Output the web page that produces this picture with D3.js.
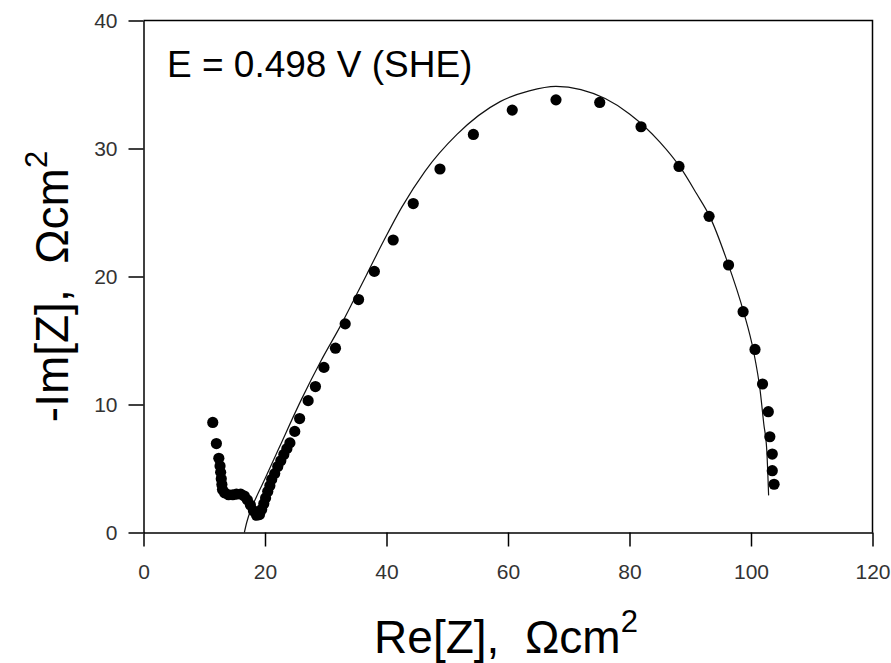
<!DOCTYPE html>
<html>
<head>
<meta charset="utf-8">
<script src="https://cdn.jsdelivr.net/npm/d3@7"></script>
<style>
  html, body { margin: 0; padding: 0; background: #fff; }
  svg { display: block; }
</style>
</head>
<body>
<script>
// ---- data ----
const measRe = [11.4, 12.0, 12.4, 12.6, 12.7, 12.8, 12.9, 13.0, 13.35, 14.0, 14.7, 15.3, 16.0, 16.6, 17.1, 17.6, 18.1, 18.6, 19.1, 19.45, 19.8, 20.1, 20.45, 20.8, 21.1, 21.6, 22.1, 22.6, 23.1, 23.6, 24.1, 24.9, 25.7, 27.1, 28.3, 29.7, 31.6, 33.2, 35.4, 38.0, 41.1, 44.4, 48.8, 54.3, 60.7, 67.9, 75.1, 81.9, 88.15, 93.1, 96.3, 98.7, 100.66, 101.9, 102.85, 103.1, 103.5, 103.5, 103.8];
const measIm = [8.6, 6.95, 5.8, 5.2, 4.7, 4.2, 3.75, 3.35, 3.1, 2.95, 2.95, 3.0, 3.0, 2.85, 2.55, 2.15, 1.7, 1.35, 1.4, 1.8, 2.25, 2.7, 3.2, 3.65, 4.15, 4.6, 5.15, 5.6, 6.1, 6.55, 7.0, 7.9, 8.9, 10.3, 11.4, 12.9, 14.4, 16.3, 18.2, 20.4, 22.85, 25.7, 28.4, 31.1, 33.0, 33.8, 33.6, 31.7, 28.6, 24.7, 20.9, 17.25, 14.3, 11.6, 9.44, 7.48, 6.13, 4.83, 3.77];
const fitRe = [16.6, 17.0, 17.6, 18.6, 20.0, 22.4, 26.0, 29.2, 32.6, 34.65, 37.0, 39.5, 42.5, 46.3, 51.6, 58.7, 63.5, 67.9, 72.0, 76.0, 80.0, 85.0, 88.4, 91.0, 93.3, 96.0, 98.8, 100.4, 101.5, 102.1, 102.6, 102.9];
const fitIm = [0.0, 0.8, 1.7, 2.8, 4.2, 6.7, 10.4, 13.4, 16.3, 18.2, 20.4, 22.75, 25.4, 28.2, 31.1, 33.66, 34.5, 34.85, 34.6, 33.9, 32.7, 30.5, 28.5, 26.5, 24.6, 21.3, 17.2, 14.2, 11.1, 8.5, 6.4, 2.9];
const xTicks = [0, 20, 40, 60, 80, 100, 120];
const yTicks = [0, 10, 20, 30, 40];
const annotation = "E = 0.498 V (SHE)";

// ---- layout ----
const W = 891, H = 663;
const L = 143.5, R = 872.5, T = 20.5, B = 532.5;
const FONT = "'Liberation Sans', Arial, sans-serif";

const svg = d3.select("body").append("svg").attr("width", W).attr("height", H);

const x = d3.scaleLinear().domain([0, 120]).range([L, R]);
const y = d3.scaleLinear().domain([0, 40]).range([B, T]);

// frame (top and right)
svg.append("path")
  .attr("d", `M${L},${T}H${R}V${B}`)
  .attr("fill", "none").attr("stroke", "#000").attr("stroke-width", 1.5);

// axes
const xAxis = d3.axisBottom(x).tickValues(xTicks).tickSize(14).tickSizeOuter(0).tickPadding(18);
const yAxis = d3.axisLeft(y).tickValues(yTicks).tickSize(15).tickSizeOuter(0).tickPadding(11);

const gx = svg.append("g").attr("transform", `translate(0,${B})`).call(xAxis);
const gy = svg.append("g").attr("transform", `translate(${L},0)`).call(yAxis);
[gx, gy].forEach(g => {
  g.select(".domain").attr("stroke", "#000").attr("stroke-width", 1.5);
  g.selectAll(".tick line").attr("stroke", "#000").attr("stroke-width", 1.5);
  g.selectAll(".tick text").attr("font-family", FONT).attr("font-size", 21).attr("fill", "#333");
});

// fit line
const fitData = fitRe.map((v, i) => [v, fitIm[i]]);
svg.append("path")
  .datum(fitData)
  .attr("fill", "none").attr("stroke", "#111").attr("stroke-width", 1.2)
  .attr("d", d3.line().x(d => x(d[0])).y(d => y(d[1])).curve(d3.curveMonotoneX));

// measured points
const meas = measRe.map((v, i) => [v, measIm[i]]);
svg.append("g").selectAll("circle").data(meas).join("circle")
  .attr("cx", d => x(d[0])).attr("cy", d => y(d[1])).attr("r", 5.6).attr("fill", "#000");

// annotation
svg.append("text").attr("x", 167).attr("y", 77)
  .attr("font-family", FONT).attr("font-size", 37).attr("fill", "#000")
  .text(annotation);

// x axis title
const xt = svg.append("text").attr("x", (L + R) / 2 - 2).attr("y", 653)
  .attr("text-anchor", "middle").style("white-space", "pre")
  .attr("font-family", FONT).attr("font-size", 46).attr("fill", "#000");
xt.append("tspan").text("Re[Z],  Ωcm");
xt.append("tspan").attr("font-size", 31).attr("dy", -21).text("2");

// y axis title
const yt = svg.append("text")
  .attr("transform", `translate(68,${(T + B) / 2 + 10}) rotate(-90)`)
  .attr("text-anchor", "middle").style("white-space", "pre")
  .attr("font-family", FONT).attr("font-size", 46).attr("fill", "#000");
yt.append("tspan").text("-Im[Z],  Ωcm");
yt.append("tspan").attr("font-size", 31).attr("dy", -21).text("2");
</script>
</body>
</html>
